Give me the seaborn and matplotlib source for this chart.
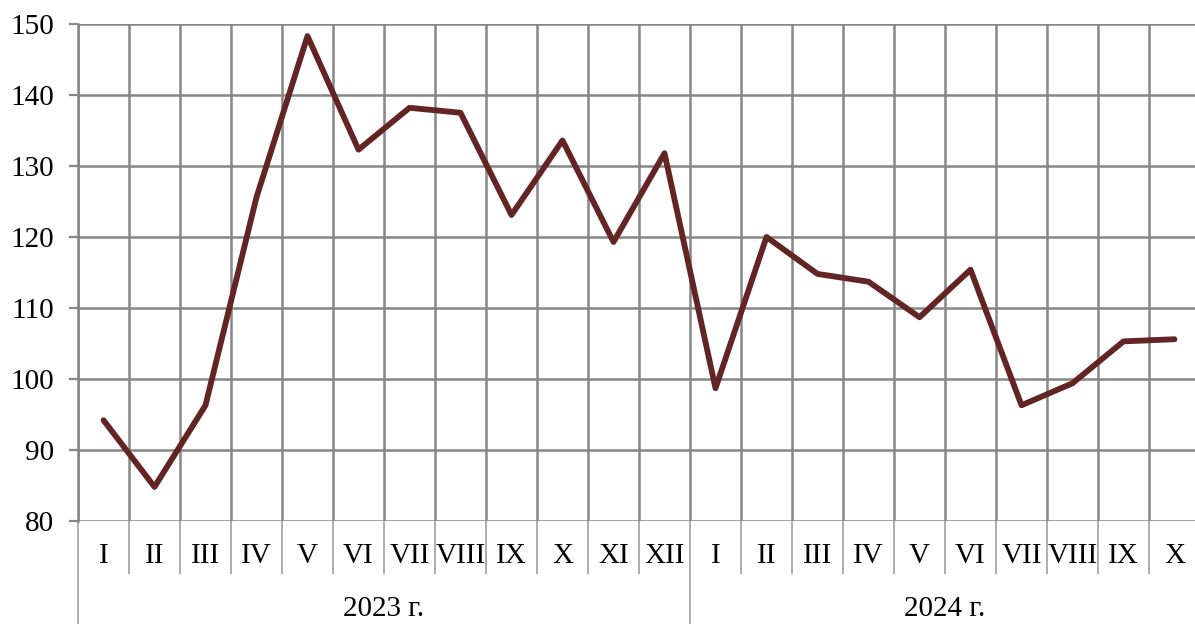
import numpy as np
import pandas as pd
import matplotlib
matplotlib.use("Agg")
import matplotlib.pyplot as plt
import seaborn as sns

months = ["I", "II", "III", "IV", "V", "VI", "VII", "VIII", "IX", "X", "XI", "XII",
          "I", "II", "III", "IV", "V", "VI", "VII", "VIII", "IX", "X"]
years = ["2023 г.", "2024 г."]
year_counts = [12, 10]
values = [94.2, 84.8, 96.3, 125.6, 148.3, 132.3, 138.2, 137.5, 123.1, 133.6, 119.3, 131.8,
          98.7, 120.0, 114.8, 113.7, 108.7, 115.4, 96.3, 99.4, 105.3, 105.6]
yticks = [80, 90, 100, 110, 120, 130, 140, 150]

sns.set_theme(style="white")
plt.rcParams["font.family"] = ["Liberation Serif", "DejaVu Serif"]

W, H = 1195, 624
fig = plt.figure(figsize=(W / 100, H / 100), dpi=100)
left, top, bottom_px = 78, 24, 521
cat_w = 51
ax = fig.add_axes([left / W, (H - bottom_px) / H, len(months) * cat_w / W, (bottom_px - top) / H])

df = pd.DataFrame({"idx": np.arange(len(values)), "val": values})
sns.lineplot(data=df, x="idx", y="val", ax=ax, color="#632523", linewidth=4.2,
             sort=False, zorder=5)

ax.set_xlim(-0.5, len(months) - 0.5)
ax.set_ylim(yticks[0], yticks[-1])
ax.set_yticks(yticks)
ax.set_yticklabels([str(v) for v in yticks], fontsize=21, color="black")
ax.set_xlabel("")
ax.set_ylabel("")

# category labels
ax.set_xticks(np.arange(len(months)))
ax.set_xticklabels(months, fontsize=21, color="black")
ax.tick_params(axis="x", which="major", length=0, pad=25)
for lab in ax.get_xticklabels():
    lab.set_va("center")
ax.set_xticks(np.arange(len(months) + 1) - 0.5, minor=True)
ax.tick_params(axis="x", which="minor", length=38, width=1.2, color="#a0a0a0", direction="out")
ax.tick_params(axis="y", which="major", length=6.5, width=1.6, color="#868686", pad=11, direction="out")
ax.tick_params(axis="y", left=True)
ax.tick_params(axis="x", which="minor", bottom=True)

ax.grid(False)
ax.grid(True, axis="x", which="minor", color="#868686", linewidth=1.8)
ax.grid(True, axis="y", which="major", color="#868686", linewidth=1.8)
ax.set_axisbelow(True)

for s in ["top", "right", "bottom"]:
    ax.spines[s].set_visible(False)
ax.spines["left"].set_color("#868686")
ax.spines["left"].set_linewidth(1.8)

# year group labels and separators
trans = ax.get_xaxis_transform()
h_ax = bottom_px - top
start = 0
for yl, cnt in zip(years, year_counts):
    center = start + (cnt - 1) / 2
    ax.text(center, -(609 - bottom_px) / h_ax, yl, transform=trans, ha="center", va="center",
            fontsize=21, color="black")
    ax.plot([start - 0.5, start - 0.5], [-(574 - bottom_px) / h_ax, -(H + 5 - bottom_px) / h_ax],
            transform=trans, clip_on=False, color="#a0a0a0", linewidth=1.2)
    start += cnt

fig.savefig("out.png", dpi=100)
